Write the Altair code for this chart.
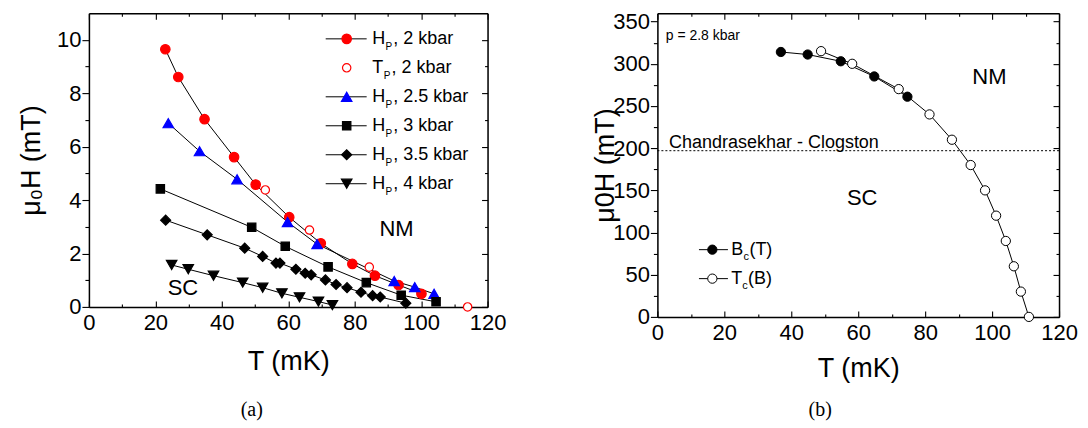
import altair as alt
import pandas as pd

# ---------------- panel (a) data: mu0H (mT) vs T (mK) ----------------
hp2_T = [23.0, 26.9, 34.8, 43.7, 50.2, 60.3, 69.8, 79.3, 86.1, 93.2, 100.1]
hp2_H = [9.65, 8.61, 7.03, 5.61, 4.58, 3.36, 2.38, 1.61, 1.17, 0.82, 0.49]
tp2_T = [53.1, 66.4, 84.4, 114.0]
tp2_H = [4.38, 2.88, 1.49, 0.0]
hp25_T = [23.9, 33.3, 44.6, 59.8, 68.7, 91.9, 98.1, 103.9]
hp25_H = [6.88, 5.83, 4.78, 3.18, 2.35, 0.97, 0.74, 0.49]
hp3_T = [21.5, 49.0, 59.1, 72.0, 83.5, 94.0, 104.5]
hp3_H = [4.42, 2.98, 2.27, 1.50, 0.91, 0.44, 0.19]
hp35_T = [23.1, 35.6, 46.9, 52.3, 56.3, 57.5, 62.3, 65.1, 66.9, 71.2, 74.4, 77.7, 81.9, 85.4, 87.7, 95.4]
hp35_H = [3.25, 2.70, 2.20, 1.89, 1.64, 1.64, 1.41, 1.26, 1.20, 1.01, 0.84, 0.72, 0.55, 0.42, 0.37, 0.14]
hp4_T = [24.9, 29.9, 37.5, 46.3, 52.3, 58.1, 63.4, 69.1, 73.3]
hp4_H = [1.57, 1.41, 1.17, 0.91, 0.72, 0.51, 0.36, 0.20, 0.07]

series_keys = ["Hp2", "Tp2", "Hp25", "Hp3", "Hp35", "Hp4"]
legend_main = ["H", "T", "H", "H", "H", "H"]
legend_sub = ["P", "P", "P", "P", "P", "P"]
legend_rest = [", 2 kbar", ", 2 kbar", ", 2.5 kbar", ", 3 kbar", ", 3.5 kbar", ", 4 kbar"]
legend_has_line = [True, False, True, True, True, True]

region_a_labels = ["NM", "SC"]
region_a_T = [92.6, 28.3]
region_a_H = [2.91, 0.70]

# ---------------- panel (b) data: mu0H (mT) vs T (mK), p = 2.8 kbar ----------------
bc_T = [36.9, 44.9, 54.8, 64.8, 74.7]
bc_B = [314, 311, 303, 285, 261]
tc_T = [48.9, 58.2, 72.1, 81.3, 88.0, 93.6, 97.9, 101.2, 104.1, 106.5, 108.6, 111.0]
tc_B = [315, 300, 270, 240, 210, 180, 150, 120, 90, 60, 30, 0]
cc_limit = [197]

legend_b_main = ["B", "T"]
legend_b_sub = ["c", "c"]
legend_b_rest = ["(T)", "(B)"]

region_b_labels = ["NM", "SC"]
region_b_T = [99.2, 61.2]
region_b_B = [284, 140.6]

# ---------------- styles ----------------
FONT = "Liberation Sans"
SERIF = "Liberation Serif"
shapes_a = ["circle", "circle", "triangle-up", "square", "diamond", "triangle-down"]
fills_a = ["#ff0000", "#ffffff", "#0000ff", "#000000", "#000000", "#000000"]
strokes_a = ["#ff0000", "#ff0000", "#0000ff", "#000000", "#000000", "#000000"]
sizes_a = [90, 70, 110, 70, 100, 110]

W_A, H_A = 399, 294
W_B, H_B = 402, 304

x_major = list(range(0, 121, 20))
x_minor = list(range(10, 120, 20))
ya_major = list(range(0, 11, 2))
ya_minor = list(range(1, 11, 2))
yb_major = list(range(0, 351, 50))
yb_minor = list(range(25, 351, 50))


def xs():
    return alt.Scale(domain=[0, 120], nice=False, zero=False)


def ysa():
    return alt.Scale(domain=[0, 11], nice=False, zero=False)


def ysb():
    return alt.Scale(domain=[0, 360], nice=False, zero=False)


def tick_axis(orient, offset, values, size, domain=False):
    return alt.Axis(orient=orient, offset=offset, values=values, tickSize=size,
                    ticks=True, labels=False, domain=domain, domainColor="black",
                    domainWidth=1.5, title="", grid=False, tickColor="black",
                    tickWidth=1.1)


def label_x_axis(W, title_y):
    return alt.Axis(orient="bottom", values=x_major, ticks=True, tickSize=0,
                    labels=True, labelFontSize=22, labelFont=FONT, labelPadding=6,
                    labelFlush=False, labelOverlap=False, labelColor="black",
                    domain=True, domainColor="black", domainWidth=1.5, grid=False,
                    title="T (mK)", titleFont=FONT, titleFontSize=27,
                    titleFontWeight="normal", titleColor="black", titleX=W / 2,
                    titleY=title_y, titleBaseline="middle", titleAlign="center",
                    titleAngle=0)


def label_y_axis(H, values, title, title_x):
    return alt.Axis(orient="left", values=values, ticks=True, tickSize=7,
                    tickWidth=1.1, tickColor="black", labels=True,
                    labelFontSize=22, labelFont=FONT, labelPadding=1,
                    labelFlush=False, labelOverlap=False, labelColor="black",
                    labelBaseline="middle",
                    domain=True, domainColor="black", domainWidth=1.5, grid=False,
                    title=title, titleFont=FONT, titleFontSize=27,
                    titleFontWeight="normal", titleColor="black", titleX=title_x,
                    titleY=H / 2, titleBaseline="middle", titleAlign="center",
                    titleAngle=270)


def axis_layers(W, H, yscale_fn, y_major, y_minor, title, title_x, xtitle_y):
    d = pd.DataFrame({"a": [0.0], "b": [0.0]})

    def L(xax, yax):
        return alt.Chart(d).mark_point(opacity=0).encode(
            x=alt.X("a:Q", scale=xs(), axis=xax),
            y=alt.Y("b:Q", scale=yscale_fn(), axis=yax))

    return [
        L(label_x_axis(W, xtitle_y), label_y_axis(H, y_major, title, title_x)),
        L(tick_axis("top", -H, x_major, 6), tick_axis("left", 0, y_minor, 4)),
        L(tick_axis("top", -H, x_minor, 3), tick_axis("left", -W, y_major, 6, domain=True)),
        L(tick_axis("bottom", -H, x_major, 6, domain=True), tick_axis("left", -W, y_minor, 3)),
        L(tick_axis("bottom", -H, x_minor, 3), None),
    ]


# ---------------- panel (a) ----------------
def sdf(key, T, H):
    return pd.DataFrame({"series": key, "T": T, "H": H})


lines_a = pd.concat([sdf("Hp2", hp2_T, hp2_H), sdf("Hp25", hp25_T, hp25_H),
                     sdf("Hp3", hp3_T, hp3_H), sdf("Hp35", hp35_T, hp35_H),
                     sdf("Hp4", hp4_T, hp4_H)], ignore_index=True)
points_a = pd.concat([sdf("Hp2", hp2_T, hp2_H), sdf("Tp2", tp2_T, tp2_H),
                      sdf("Hp25", hp25_T, hp25_H), sdf("Hp3", hp3_T, hp3_H),
                      sdf("Hp35", hp35_T, hp35_H), sdf("Hp4", hp4_T, hp4_H)],
                     ignore_index=True)

shape_sc = alt.Scale(domain=series_keys, range=shapes_a)
fill_sc = alt.Scale(domain=series_keys, range=fills_a)
stroke_sc = alt.Scale(domain=series_keys, range=strokes_a)
size_sc = alt.Scale(type="ordinal", domain=series_keys, range=sizes_a)

line_layer_a = alt.Chart(lines_a).mark_line(color="black", strokeWidth=1).encode(
    x=alt.X("T:Q", scale=xs(), axis=None),
    y=alt.Y("H:Q", scale=ysa(), axis=None),
    detail="series:N", order="T:Q")

point_layer_a = alt.Chart(points_a).mark_point(opacity=1, strokeWidth=1.2).encode(
    x=alt.X("T:Q", scale=xs(), axis=None),
    y=alt.Y("H:Q", scale=ysa(), axis=None),
    shape=alt.Shape("series:N", scale=shape_sc, legend=None),
    fill=alt.Fill("series:N", scale=fill_sc, legend=None),
    stroke=alt.Stroke("series:N", scale=stroke_sc, legend=None),
    size=alt.Size("series:O", scale=size_sc, legend=None))

ann_a = pd.DataFrame({"label": region_a_labels, "T": region_a_T, "H": region_a_H})
ann_layer_a = alt.Chart(ann_a).mark_text(font=FONT, fontSize=22, color="black",
                                          baseline="middle", align="center").encode(
    x=alt.X("T:Q", scale=xs(), axis=None),
    y=alt.Y("H:Q", scale=ysa(), axis=None),
    text="label:N")

leg_a = pd.DataFrame({"key": series_keys, "row": list(range(6)), "main": legend_main,
                      "sub": legend_sub, "rest": legend_rest, "line": legend_has_line})


def rowscale_a():
    return alt.Scale(domain=[0, 5], range=[25.7, 170.7], nice=False, zero=False)


ya_row = alt.Y("row:Q", scale=rowscale_a(), axis=None)

leg_a_layers = [
    alt.Chart(leg_a).transform_filter("datum.line").mark_rule(color="black", strokeWidth=1).encode(
        x=alt.value(237), x2=alt.value(278), y=ya_row),
    alt.Chart(leg_a).mark_point(opacity=1, strokeWidth=1.2).encode(
        x=alt.value(258), y=ya_row,
        shape=alt.Shape("key:N", scale=shape_sc, legend=None),
        fill=alt.Fill("key:N", scale=fill_sc, legend=None),
        stroke=alt.Stroke("key:N", scale=stroke_sc, legend=None),
        size=alt.Size("key:O", scale=size_sc, legend=None)),
    alt.Chart(leg_a).mark_text(font=FONT, fontSize=18, color="black", align="left",
                               baseline="middle").encode(
        x=alt.value(283.7), y=ya_row, text="main:N"),
    alt.Chart(leg_a).transform_filter("datum.main == 'H'").mark_text(
        font=FONT, fontSize=10, color="black", align="left", baseline="middle", dy=8).encode(
        x=alt.value(296.8), y=ya_row, text="sub:N"),
    alt.Chart(leg_a).transform_filter("datum.main == 'T'").mark_text(
        font=FONT, fontSize=10, color="black", align="left", baseline="middle", dy=8).encode(
        x=alt.value(295.0), y=ya_row, text="sub:N"),
    alt.Chart(leg_a).transform_filter("datum.main == 'H'").mark_text(
        font=FONT, fontSize=18, color="black", align="left", baseline="middle").encode(
        x=alt.value(304.6), y=ya_row, text="rest:N"),
    alt.Chart(leg_a).transform_filter("datum.main == 'T'").mark_text(
        font=FONT, fontSize=18, color="black", align="left", baseline="middle").encode(
        x=alt.value(302.8), y=ya_row, text="rest:N"),
]

cap_a = alt.Chart(pd.DataFrame({"cap": ["(a)"]})).mark_text(
    font=SERIF, fontSize=20, color="black", align="center", baseline="middle").encode(
    x=alt.value(163), y=alt.value(397.4), text="cap:N")

panel_a = alt.layer(
    *axis_layers(W_A, H_A, ysa, ya_major, ya_minor, "μ₀H (mT)", -57, 55),
    line_layer_a, point_layer_a, ann_layer_a, *leg_a_layers, cap_a
).resolve_scale(x="independent", y="independent").properties(width=W_A, height=H_A)

# ---------------- panel (b) ----------------
bc_df = pd.DataFrame({"series": "Bc", "T": bc_T, "B": bc_B, "i": list(range(len(bc_T)))})
tc_df = pd.DataFrame({"series": "Tc", "T": tc_T, "B": tc_B, "i": list(range(len(tc_T)))})


def curve_b(df, fill):
    base = alt.Chart(df).encode(
        x=alt.X("T:Q", scale=xs(), axis=None),
        y=alt.Y("B:Q", scale=ysb(), axis=None))
    ln = base.mark_line(color="black", strokeWidth=1).encode(order="i:Q")
    pt = base.mark_point(opacity=1, strokeWidth=1, stroke="black", fill=fill,
                         shape="circle", size=86)
    return [ln, pt]


cc_layer = alt.Chart(pd.DataFrame({"B": cc_limit})).mark_rule(
    color="black", strokeWidth=1, strokeDash=[2, 2]).encode(
    y=alt.Y("B:Q", scale=ysb(), axis=None))

ann_b = pd.DataFrame({"label": region_b_labels, "T": region_b_T, "B": region_b_B})
ann_layer_b = alt.Chart(ann_b).mark_text(font=FONT, fontSize=22, color="black",
                                          baseline="middle", align="center").encode(
    x=alt.X("T:Q", scale=xs(), axis=None),
    y=alt.Y("B:Q", scale=ysb(), axis=None),
    text="label:N")

note_b = pd.DataFrame({"label": ["p = 2.8 kbar"], "T": [2.5], "B": [333.5]})
note_layer_b = alt.Chart(note_b).mark_text(font=FONT, fontSize=14, color="black",
                                            baseline="middle", align="left").encode(
    x=alt.X("T:Q", scale=xs(), axis=None),
    y=alt.Y("B:Q", scale=ysb(), axis=None),
    text="label:N")

cc_text = pd.DataFrame({"label": ["Chandrasekhar - Clogston"], "T": [3.5], "B": [200.5]})
cc_text_layer = alt.Chart(cc_text).mark_text(font=FONT, fontSize=18, color="black",
                                              baseline="alphabetic", align="left").encode(
    x=alt.X("T:Q", scale=xs(), axis=None),
    y=alt.Y("B:Q", scale=ysb(), axis=None),
    text="label:N")

leg_b = pd.DataFrame({"row": [0, 1], "main": legend_b_main,
                      "sub": legend_b_sub, "rest": legend_b_rest})


def rowscale_b():
    return alt.Scale(domain=[0, 1], range=[236.7, 265.7], nice=False, zero=False)


yb_row = alt.Y("row:Q", scale=rowscale_b(), axis=None)

leg_b_layers = [
    alt.Chart(leg_b).mark_rule(color="black", strokeWidth=1).encode(
        x=alt.value(41.6), x2=alt.value(70.6), y=yb_row),
    alt.Chart(leg_b).transform_filter("datum.main == 'B'").mark_point(
        opacity=1, strokeWidth=1, stroke="black", fill="black", shape="circle",
        size=86).encode(x=alt.value(55), y=yb_row),
    alt.Chart(leg_b).transform_filter("datum.main == 'T'").mark_point(
        opacity=1, strokeWidth=1, stroke="black", fill="white", shape="circle",
        size=86).encode(x=alt.value(55), y=yb_row),
    alt.Chart(leg_b).mark_text(font=FONT, fontSize=18, color="black", align="left",
                               baseline="middle").encode(
        x=alt.value(74), y=yb_row, text="main:N"),
    alt.Chart(leg_b).transform_filter("datum.main == 'B'").mark_text(
        font=FONT, fontSize=11, color="black", align="left", baseline="middle", dy=7).encode(
        x=alt.value(86.2), y=yb_row, text="sub:N"),
    alt.Chart(leg_b).transform_filter("datum.main == 'T'").mark_text(
        font=FONT, fontSize=11, color="black", align="left", baseline="middle", dy=7).encode(
        x=alt.value(85.0), y=yb_row, text="sub:N"),
    alt.Chart(leg_b).transform_filter("datum.main == 'B'").mark_text(
        font=FONT, fontSize=18, color="black", align="left", baseline="middle").encode(
        x=alt.value(92.1), y=yb_row, text="rest:N"),
    alt.Chart(leg_b).transform_filter("datum.main == 'T'").mark_text(
        font=FONT, fontSize=18, color="black", align="left", baseline="middle").encode(
        x=alt.value(90.7), y=yb_row, text="rest:N"),
]

cap_b = alt.Chart(pd.DataFrame({"cap": ["(b)"]})).mark_text(
    font=SERIF, fontSize=20, color="black", align="center", baseline="middle").encode(
    x=alt.value(163), y=alt.value(397.4), text="cap:N")

panel_b = alt.layer(
    *axis_layers(W_B, H_B, ysb, yb_major, yb_minor, "μ0H (mT)", -51.7, 52),
    cc_layer, *curve_b(bc_df, "black"), *curve_b(tc_df, "white"),
    ann_layer_b, note_layer_b, cc_text_layer,
    *leg_b_layers, cap_b
).resolve_scale(x="independent", y="independent").properties(width=W_B, height=H_B)

chart = alt.hconcat(panel_a, panel_b, spacing=170, bounds="flush").properties(
    padding={"left": 17, "top": 9, "right": 10, "bottom": 0},
    background="white",
).configure_view(strokeWidth=0).configure(font=FONT)

chart.save("out.html", embed_options={"renderer": "svg", "actions": False})
